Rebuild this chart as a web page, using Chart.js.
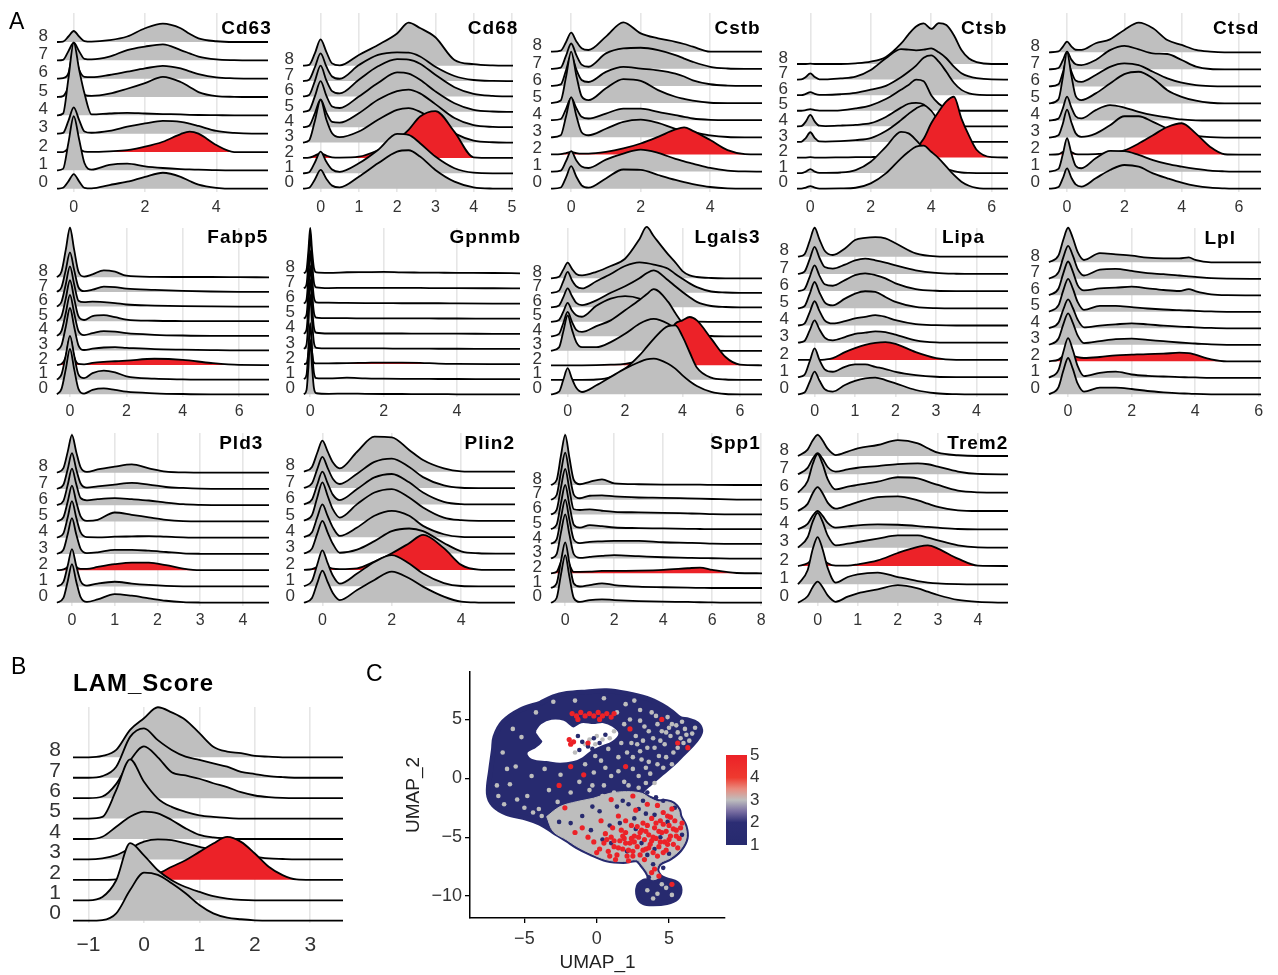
<!DOCTYPE html>
<html>
<head>
<meta charset="utf-8">
<title>LAM marker ridgelines and UMAP</title>
<script src="https://cdn.jsdelivr.net/npm/chart.js@4.4.1/dist/chart.umd.min.js"></script>
<style>
  body { margin: 0; background: #fff; }
  #fig { position: relative; width: 1278px; height: 975px; overflow: hidden;
         font-family: "Liberation Sans", Arial, sans-serif; color: #000; }
  #fig canvas { position: absolute; }
  .gene { position: absolute; font-weight: bold; font-size: 19px; letter-spacing: 1px; line-height: 1; white-space: nowrap; }
  .lam { position: absolute; font-weight: bold; font-size: 24px; letter-spacing: 1px; line-height: 1; white-space: nowrap; }
  .tag { position: absolute; font-size: 23px; line-height: 1; }
</style>
</head>
<body>
<div id="fig"></div>
<script>
Chart.defaults.font.family = '"Liberation Sans", Arial, sans-serif';
Chart.defaults.color = "#333";

const clusters = ["0", "1", "2", "3", "4", "5", "6", "7", "8"];

// ridge heights are in "row" units above each cluster baseline
const cd63X = [-0.47,-0.3,-0.15,0,0.15,0.3,0.5,1,1.5,2,2.5,3,3.25,3.5,4,4.5,5,5.45];
const cd63 = [
  [0,0.05,0.4,0.8,0.4,0.05,0.02,0.2,0.38,0.65,0.87,0.65,0.42,0.22,0.05,0,0,0],
  [0,0.08,1.5,2.95,1.7,0.4,0.04,0.3,0.37,0.22,0.13,0.07,0.05,0.04,0.01,0,0,0],
  [0,0,0.2,0.5,0.2,0.02,0.01,0.04,0.1,0.29,0.56,0.98,1.11,1.0,0.38,0,0,0],
  [0,0.04,0.7,1.44,0.75,0.12,0.05,0.15,0.38,0.56,0.7,0.65,0.55,0.42,0.15,0.04,0,0],
  [0,0.1,2.0,3.96,2.5,1.2,0.05,0.1,0.14,0.1,0.07,0.05,0.03,0.02,0.01,0,0,0],
  [0,0.05,0.6,1.8,0.9,0.12,0.06,0.18,0.45,0.76,1.1,0.82,0.55,0.27,0.05,0.01,0,0],
  [0,0.03,0.3,1.6,0.5,0.1,0.08,0.2,0.38,0.56,0.7,0.56,0.4,0.25,0.07,0.02,0,0],
  [0,0.03,0.5,0.96,0.5,0.08,0.05,0.2,0.56,0.75,0.87,0.56,0.38,0.2,0.05,0.01,0,0],
  [0,0.02,0.3,0.6,0.3,0.05,0.02,0.1,0.3,0.75,1.0,0.75,0.45,0.2,0.04,0,0,0]
];

const cd68X = [-0.46,-0.3,-0.15,0,0.15,0.3,0.5,1,1.5,2,2.3,2.6,3,3.5,4,4.5,5.03];
const cd68 = [
  [0,0.06,0.6,1.22,0.65,0.2,0.09,0.78,1.65,2.41,2.5,2.09,1.22,0.46,0.09,0.01,0],
  [0,0.07,0.7,1.41,0.75,0.25,0.1,0.65,1.52,2.56,2.5,1.96,1.09,0.33,0.04,0,0],
  [0,0.02,0.15,0.3,0.15,0.04,0.02,0.08,0.5,1.17,1.83,2.7,3.05,1.7,0.04,0,0],
  [0,0.14,1.4,2.78,1.5,0.6,0.35,0.72,1.48,2.13,2.24,2.0,1.4,0.6,0.13,0.02,0],
  [0,0.09,0.9,1.8,0.95,0.35,0.3,0.91,1.78,2.35,2.45,2.2,1.5,0.6,0.13,0.02,0],
  [0,0.1,1.0,2.0,1.05,0.35,0.25,1.0,1.87,2.56,2.48,2.08,1.33,0.56,0.13,0.02,0],
  [0,0.1,1.0,2.0,1.05,0.35,0.2,1.09,1.96,2.43,2.4,2.13,1.41,0.6,0.17,0.04,0],
  [0,0.09,0.9,1.8,0.95,0.3,0.15,1.04,1.7,1.87,1.85,1.6,0.93,0.33,0.07,0.01,0],
  [0,0.05,0.8,1.71,0.9,0.15,0.02,0.7,1.35,2.1,2.8,2.45,1.85,0.37,0.1,0.02,0]
];

const cstbX = [-0.58,-0.3,-0.15,0,0.15,0.3,0.5,1,1.5,2,2.5,3,3.25,3.5,4,4.5,5,5.49];
const cstb = [
  [0,0.07,0.65,1.32,0.7,0.2,0.06,0.6,1.12,1.1,0.8,0.51,0.38,0.27,0.1,0.02,0,0],
  [0,0.06,0.6,1.19,0.65,0.3,0.21,0.7,1.05,1.28,1.09,0.74,0.6,0.47,0.21,0.06,0.01,0],
  [0,0.02,0.08,0.15,0.08,0.05,0.05,0.15,0.35,0.64,1.03,1.46,1.58,1.38,0.84,0.25,0.02,0],
  [0,0.12,1.2,2.35,1.25,0.3,0.12,0.5,0.9,1.03,0.84,0.5,0.4,0.31,0.12,0.02,0,0],
  [0,0.07,0.65,1.3,0.7,0.2,0.1,0.39,0.68,0.68,0.49,0.29,0.2,0.1,0.02,0,0,0],
  [0,0.15,1.5,3.0,1.6,0.4,0.17,0.86,1.4,1.3,0.76,0.37,0.25,0.14,0.02,0,0,0],
  [0,0.09,0.9,1.8,0.95,0.35,0.23,0.82,1.11,1.01,0.91,0.72,0.55,0.33,0.1,0.02,0,0],
  [0,0.07,0.75,1.48,0.8,0.25,0.12,0.9,1.19,1.23,1.09,0.8,0.6,0.41,0.12,0.02,0,0],
  [0,0.06,0.55,1.11,0.6,0.2,0.1,0.88,1.71,1.07,0.78,0.58,0.45,0.29,0,0,0,0]
];

const ctsbX = [-0.44,-0.3,-0.15,0,0.15,0.3,0.5,1,1.5,2,2.5,3,3.25,3.5,3.75,4,4.25,4.5,4.75,5,5.25,5.5,6,6.54];
const ctsb = [
  [0,0,0.07,0.17,0.07,0.01,0.01,0.02,0.06,0.34,0.98,1.95,2.37,2.7,2.76,2.37,1.95,1.41,0.88,0.45,0.19,0.06,0,0],
  [0,0,0.1,0.26,0.1,0.02,0.02,0.04,0.19,0.73,1.69,2.65,2.55,2.12,1.58,1.05,0.62,0.3,0.13,0.04,0.01,0,0,0],
  [0,0,0,0.02,0,0,0,0.01,0.02,0.03,0.06,0.15,0.3,0.6,1.2,2.2,2.95,3.6,3.9,2.5,1.4,0.5,0.02,0],
  [0,0.01,0.25,0.62,0.25,0.03,0.02,0.05,0.12,0.25,0.7,1.4,1.8,2.15,2.35,2.0,1.3,0.6,0.2,0.05,0.01,0,0,0],
  [0,0.01,0.3,0.73,0.3,0.04,0.02,0.05,0.1,0.2,0.6,1.2,1.45,1.5,1.4,0.9,0.5,0.2,0.06,0.02,0,0,0,0],
  [0,0,0.04,0.1,0.04,0.01,0.01,0.03,0.15,0.35,0.75,1.35,1.65,2.0,1.9,1.0,0.45,0.15,0.03,0,0,0,0,0],
  [0,0,0.08,0.2,0.08,0.02,0.02,0.06,0.15,0.35,0.6,1.15,1.5,1.9,2.4,2.55,2.15,1.5,0.8,0.34,0.12,0.03,0,0],
  [0,0.01,0.16,0.4,0.16,0.02,0.01,0.08,0.19,0.62,1.37,1.95,1.92,1.88,1.92,2.0,1.75,1.37,0.83,0.41,0.2,0.09,0.01,0],
  [0,0,0,0.02,0,0,0,0,0.04,0.15,0.45,1.3,1.9,2.4,2.6,2.25,2.62,2.5,1.85,0.9,0.35,0.12,0,0]
];

const ctsdX = [-0.63,-0.3,-0.15,0,0.15,0.3,0.5,1,1.5,2,2.5,3,3.5,4,4.5,5,5.5,6,6.77];
const ctsd = [
  [0,0.1,0.6,1.19,0.65,0.25,0.12,0.61,1.1,1.39,1.29,0.9,0.61,0.35,0.16,0.06,0.02,0,0],
  [0,0.16,1.0,1.96,1.08,0.35,0.2,0.78,1.22,1.2,0.98,0.68,0.45,0.29,0.16,0.06,0.02,0,0],
  [0,0.02,0.15,0.3,0.15,0.03,0.01,0.03,0.08,0.25,0.65,1.14,1.62,1.84,1.23,0.45,0.02,0,0],
  [0,0.13,0.8,1.64,0.9,0.25,0.04,0.23,0.72,1.25,1.25,0.92,0.53,0.23,0.1,0.02,0,0,0],
  [0,0.11,0.7,1.4,0.77,0.25,0.12,0.61,0.9,0.76,0.51,0.31,0.18,0.06,0.01,0,0,0,0],
  [0,0.24,1.5,3.0,1.65,0.45,0.2,0.59,1.17,1.72,1.86,1.47,0.78,0.39,0.16,0.04,0,0,0],
  [0,0.13,0.8,1.6,0.88,0.35,0.27,0.67,1.15,1.35,1.25,0.86,0.47,0.22,0.08,0.02,0,0,0],
  [0,0.08,0.52,1.04,0.57,0.3,0.25,0.55,1.13,1.38,1.17,0.94,0.9,0.55,0.16,0.02,0,0,0],
  [0,0.05,0.32,0.63,0.35,0.15,0.14,0.53,0.76,1.31,1.74,1.41,0.72,0.43,0.14,0.04,0,0,0]
];

const fabp5X = [-0.46,-0.3,-0.15,0,0.15,0.3,0.5,0.8,1.2,1.6,2,3,4,5,6,7.06];
const fabp5 = [
  [0,0.37,1.7,3.1,1.7,0.37,0.05,0.3,0.4,0.3,0.18,0.07,0.02,0,0,0],
  [0,0.36,1.65,3.0,1.65,0.36,0.1,0.45,0.62,0.5,0.23,0.07,0.02,0,0,0],
  [0,0.08,0.55,1.9,0.55,0.08,0.05,0.15,0.22,0.26,0.3,0.43,0.36,0.14,0.01,0],
  [0,0.35,1.6,2.9,1.6,0.35,0.03,0.12,0.2,0.22,0.18,0.09,0.05,0.02,0,0],
  [0,0.34,1.54,2.8,1.54,0.34,0.05,0.18,0.32,0.29,0.18,0.07,0.02,0,0,0],
  [0,0.34,1.54,2.8,1.54,0.34,0.08,0.35,0.42,0.27,0.11,0.03,0.01,0,0,0],
  [0,0.33,1.51,2.75,1.51,0.4,0.3,0.33,0.3,0.24,0.14,0.07,0.03,0.01,0,0],
  [0,0.32,1.49,2.7,1.49,0.32,0.05,0.15,0.36,0.33,0.23,0.14,0.07,0.03,0.01,0],
  [0,0.4,1.87,3.4,1.87,0.4,0.05,0.2,0.48,0.38,0.11,0.03,0.02,0.02,0.01,0]
];

const gpnmbX = [-0.17,-0.1,-0.05,0,0.05,0.1,0.17,0.5,1,1.5,2,2.5,3,3.5,4,5,5.72];
const gpnmb = [
  [0,0.29,1.8,3.6,1.8,0.43,0.07,0.03,0.05,0.03,0.02,0.02,0.01,0.01,0,0,0],
  [0,0.3,1.85,3.7,1.85,0.44,0.07,0.05,0.1,0.05,0.03,0.02,0.02,0.01,0.01,0,0],
  [0,0.05,0.8,2.6,0.8,0.1,0.04,0.05,0.06,0.08,0.1,0.1,0.08,0.03,0.01,0,0],
  [0,0.29,1.8,3.6,1.8,0.43,0.07,0.03,0.03,0.03,0.03,0.02,0.02,0.01,0.01,0,0],
  [0,0.29,1.8,3.6,1.8,0.43,0.07,0.02,0.02,0.02,0.02,0.02,0.01,0.01,0.01,0,0],
  [0,0.28,1.75,3.5,1.75,0.42,0.07,0.03,0.03,0.02,0.02,0.02,0.02,0.01,0.01,0,0],
  [0,0.28,1.75,3.5,1.75,0.42,0.08,0.06,0.04,0.03,0.03,0.02,0.02,0.02,0.01,0,0],
  [0,0.28,1.75,3.5,1.75,0.42,0.07,0.02,0.04,0.04,0.04,0.03,0.03,0.02,0.02,0.01,0],
  [0,0.24,1.5,3.0,1.5,0.36,0.06,0.03,0.07,0.08,0.09,0.06,0.05,0.04,0.03,0.02,0]
];

const lgals3X = [-0.58,-0.3,-0.15,0,0.15,0.3,0.5,1,1.5,2,2.5,2.75,3,3.5,3.75,4,4.25,4.5,5,5.5,6,6.77];
const lgals3 = [
  [0,0.18,1.0,1.8,1.08,0.45,0.16,0.62,1.2,1.77,2.23,2.41,2.46,2.11,1.77,1.31,0.9,0.57,0.16,0.02,0,0],
  [0,0,0,0.01,0,0,0,0.02,0.18,0.76,1.68,2.25,2.83,3.7,3.75,3.0,1.9,0.85,0.15,0.02,0,0],
  [0,0,0,0,0,0,0,0.01,0.04,0.1,0.3,0.5,0.8,1.9,2.87,3.1,3.33,3.1,1.84,0.57,0.05,0],
  [0,0.24,1.34,2.44,1.46,0.6,0.25,0.25,0.6,1.17,1.86,2.1,2.2,1.86,1.5,1.06,0.6,0.25,0.02,0,0,0],
  [0,0.17,0.92,1.68,1.0,0.45,0.3,0.7,1.1,1.8,2.5,2.9,3.25,2.37,1.6,0.9,0.4,0.12,0.02,0,0,0],
  [0,0.13,0.7,1.3,0.78,0.45,0.35,1.1,1.6,1.77,1.6,1.3,0.9,0.3,0.12,0.05,0.02,0.01,0,0,0,0],
  [0,0.13,0.7,1.3,0.78,0.3,0.15,0.48,1.0,1.45,2.0,2.35,2.55,1.86,1.45,1.06,0.7,0.37,0.09,0.02,0,0],
  [0,0.15,0.8,1.45,0.87,0.45,0.3,0.8,1.3,1.85,2.1,2.05,1.95,1.66,1.3,0.97,0.65,0.39,0.09,0.02,0,0],
  [0,0.11,0.6,1.08,0.65,0.3,0.2,0.45,0.85,1.35,2.7,3.54,2.9,1.65,1.1,0.5,0.2,0.09,0.02,0,0,0]
];

const lipaX = [-0.41,-0.25,-0.12,0,0.12,0.25,0.45,0.75,1,1.25,1.5,1.75,2,2.5,3,3.5,4,4.78];
const lipa = [
  [0,0.1,0.73,1.32,0.8,0.3,0.16,0.54,0.78,0.93,0.97,0.83,0.64,0.25,0.06,0.01,0,0],
  [0,0.13,0.92,1.67,1.0,0.45,0.31,0.6,0.74,0.74,0.6,0.47,0.31,0.12,0.02,0,0,0],
  [0,0,0,0,0,0.02,0.1,0.45,0.68,0.87,0.99,1.03,0.93,0.45,0.1,0,0,0],
  [0,0.1,0.72,1.3,0.78,0.3,0.14,0.33,0.52,0.58,0.66,0.62,0.47,0.14,0.02,0,0,0],
  [0,0.11,0.78,1.41,0.85,0.3,0.12,0.25,0.41,0.5,0.6,0.5,0.31,0.08,0.02,0,0,0],
  [0,0.12,0.84,1.53,0.92,0.35,0.17,0.56,0.85,0.99,0.95,0.66,0.37,0.08,0.01,0,0,0],
  [0,0.12,0.83,1.5,0.9,0.4,0.31,0.64,0.93,1.03,0.93,0.74,0.45,0.12,0.02,0,0,0],
  [0,0.13,0.86,1.57,0.94,0.4,0.31,0.54,0.79,0.89,0.79,0.66,0.5,0.21,0.06,0.01,0,0],
  [0,0.14,0.93,1.69,1.01,0.35,0.1,0.48,0.97,1.1,1.14,1.07,0.78,0.19,0.02,0,0,0]
];

const lplX = [-0.6,-0.3,-0.15,0,0.15,0.3,0.5,1,1.5,2,2.5,3,3.5,3.8,4,4.5,5,6.07];
const lpl = [
  [0,0.44,1.43,2.2,1.54,0.66,0.16,0.4,0.4,0.32,0.2,0.12,0.06,0.04,0.02,0,0,0],
  [0,0.48,1.56,2.4,1.68,0.72,0.1,0.3,0.37,0.2,0.12,0.08,0.04,0.03,0.02,0,0,0],
  [0,0.1,0.33,0.5,0.35,0.25,0.2,0.26,0.36,0.4,0.44,0.46,0.52,0.5,0.4,0.12,0,0],
  [0,0.38,1.24,1.9,1.33,0.57,0.1,0.22,0.34,0.38,0.3,0.22,0.14,0.1,0.08,0.02,0,0],
  [0,0.35,1.14,1.75,1.23,0.53,0.06,0.16,0.24,0.3,0.24,0.16,0.1,0.08,0.06,0.02,0,0],
  [0,0.4,1.3,2.0,1.4,0.6,0.12,0.36,0.36,0.28,0.2,0.14,0.1,0.08,0.06,0.02,0,0],
  [0,0.41,1.33,2.05,1.44,0.62,0.3,0.42,0.46,0.52,0.42,0.32,0.26,0.38,0.26,0.06,0.01,0],
  [0,0.4,1.3,2.0,1.4,0.6,0.2,0.55,0.6,0.48,0.34,0.28,0.2,0.15,0.12,0.04,0.01,0],
  [0,0.42,1.37,2.1,1.47,0.63,0.14,0.55,0.48,0.4,0.28,0.24,0.24,0.3,0.14,0,0,0]
];

const pld3X = [-0.35,-0.2,-0.1,0,0.1,0.2,0.35,0.6,1,1.4,1.8,2.2,2.6,3,3.5,4,4.61];
const pld3 = [
  [0,0.29,1.31,2.38,1.31,0.36,0.05,0.2,0.53,0.43,0.27,0.12,0.04,0.01,0,0,0],
  [0,0.28,1.27,2.3,1.27,0.35,0.05,0.18,0.29,0.18,0.1,0.04,0.01,0,0,0,0],
  [0,0.05,0.2,0.6,0.2,0.08,0.08,0.2,0.37,0.47,0.47,0.31,0.1,0,0,0,0],
  [0,0.26,1.21,2.2,1.21,0.33,0.05,0.1,0.25,0.25,0.2,0.12,0.04,0.01,0,0,0],
  [0,0.27,1.24,2.25,1.24,0.34,0.03,0.02,0.06,0.08,0.1,0.06,0.02,0,0,0,0],
  [0,0.26,1.21,2.2,1.21,0.33,0.04,0.1,0.55,0.41,0.25,0.1,0.02,0,0,0,0],
  [0,0.27,1.24,2.25,1.3,0.45,0.3,0.37,0.43,0.37,0.29,0.16,0.06,0.02,0,0,0],
  [0,0.26,1.21,2.2,1.21,0.35,0.08,0.16,0.27,0.37,0.27,0.12,0.06,0.02,0,0,0],
  [0,0.28,1.28,2.32,1.28,0.35,0.05,0.2,0.37,0.51,0.27,0.06,0.02,0,0,0,0]
];

const plin2X = [-0.53,-0.3,-0.15,0,0.15,0.3,0.5,1,1.5,2,2.5,2.9,3.5,4,4.5,5,5.55];
const plin2 = [
  [0,0.29,1.18,1.96,1.27,0.59,0.16,0.78,1.39,1.9,1.49,0.98,0.37,0.06,0.01,0,0],
  [0,0.33,1.32,2.2,1.43,0.66,0.16,0.78,1.49,1.9,1.39,0.78,0.2,0.02,0,0,0],
  [0,0.05,0.18,0.3,0.2,0.08,0.05,0.1,0.51,1.02,1.63,2.14,1.33,0.31,0.02,0,0],
  [0,0.3,1.2,2.0,1.3,0.6,0.05,0.24,0.76,1.37,1.53,1.37,0.65,0.14,0.02,0,0],
  [0,0.3,1.2,2.0,1.3,0.6,0.08,0.59,1.31,1.61,1.31,0.69,0.18,0.02,0,0,0],
  [0,0.35,1.41,2.35,1.53,0.71,0.2,1.02,1.73,1.94,1.43,0.82,0.2,0.04,0,0,0],
  [0,0.3,1.2,2.0,1.3,0.6,0.27,0.94,1.65,1.86,1.35,0.73,0.16,0.02,0,0,0],
  [0,0.29,1.14,1.9,1.24,0.57,0.25,0.88,1.6,1.8,1.29,0.67,0.16,0.02,0,0,0],
  [0,0.29,1.14,1.9,1.24,0.57,0.2,1.22,2.14,2.1,1.33,0.71,0.2,0.02,0,0,0]
];

const spp1X = [-0.58,-0.35,-0.17,0,0.17,0.35,0.6,1,1.5,2,3,4,5,5.5,6,7,8.03];
const spp1 = [
  [0,0.32,1.94,3.24,1.78,0.32,0.05,0.18,0.23,0.18,0.11,0.07,0.05,0.03,0.02,0,0],
  [0,0.31,1.86,3.1,1.7,0.31,0.1,0.2,0.32,0.2,0.09,0.05,0.02,0.01,0,0,0],
  [0,0.1,0.8,1.4,0.6,0.1,0.1,0.11,0.16,0.16,0.18,0.23,0.34,0.39,0.23,0.02,0],
  [0,0.3,1.8,3.0,1.65,0.3,0.05,0.11,0.18,0.23,0.16,0.09,0.05,0.03,0.02,0,0],
  [0,0.3,1.8,3.0,1.65,0.3,0.05,0.14,0.17,0.2,0.2,0.11,0.07,0.05,0.02,0,0],
  [0,0.3,1.8,3.0,1.65,0.3,0.1,0.27,0.2,0.11,0.07,0.05,0.02,0.01,0,0,0],
  [0,0.31,1.86,3.1,1.7,0.35,0.3,0.34,0.25,0.18,0.14,0.11,0.07,0.05,0.02,0,0],
  [0,0.32,1.92,3.2,1.76,0.35,0.1,0.27,0.3,0.22,0.15,0.13,0.09,0.07,0.05,0.01,0],
  [0,0.34,2.04,3.4,1.87,0.34,0.05,0.22,0.38,0.11,0.05,0.03,0.02,0.02,0.01,0,0]
];

const trem2X = [-0.49,-0.25,-0.12,0,0.12,0.25,0.45,0.75,1,1.5,2,2.5,2.75,3,3.5,4,4.75];
const trem2 = [
  [0,0.35,0.86,1.15,0.86,0.4,0.05,0.33,0.51,0.73,0.96,0.78,0.6,0.42,0.15,0.04,0],
  [0,0.77,1.94,2.58,1.94,0.9,0.09,0.4,0.55,0.64,0.4,0.18,0.1,0.05,0.01,0,0],
  [0,0.15,0.4,0.5,0.4,0.15,0.02,0.02,0.09,0.31,0.71,1.04,1.13,0.95,0.4,0.02,0],
  [0,0.57,1.43,1.9,1.43,0.67,0.13,0.22,0.31,0.49,0.67,0.67,0.55,0.4,0.13,0.02,0],
  [0,0.3,0.75,1.0,0.75,0.35,0.09,0.16,0.22,0.27,0.25,0.18,0.13,0.09,0.02,0,0],
  [0,0.39,0.98,1.3,0.98,0.46,0.13,0.31,0.49,0.76,0.8,0.58,0.4,0.22,0.04,0,0],
  [0,0.63,1.58,2.1,1.58,0.74,0.18,0.33,0.42,0.6,0.84,0.78,0.6,0.42,0.11,0.02,0],
  [0,0.35,0.86,1.15,0.86,0.4,0.15,0.27,0.36,0.45,0.56,0.6,0.55,0.42,0.15,0.02,0],
  [0,0.35,0.86,1.15,0.86,0.4,0.05,0.24,0.42,0.6,0.87,0.69,0.42,0.18,0.04,0,0]
];

const lamX = [-1.28,-1,-0.75,-0.5,-0.25,0,0.25,0.5,0.75,1,1.25,1.5,1.75,2,2.25,2.5,2.75,3,3.59];
const lam = [
  [0,0,0.03,0.36,1.5,2.35,2.24,1.83,1.34,0.77,0.36,0.15,0.07,0.02,0,0,0,0,0],
  [0,0,0.16,0.98,2.8,2.2,1.47,0.98,0.65,0.41,0.2,0.08,0.02,0,0,0,0,0,0],
  [0,0,0,0.02,0.05,0.1,0.3,0.64,0.96,1.37,1.78,2.1,1.86,1.29,0.64,0.23,0.02,0,0],
  [0,0,0.05,0.21,0.54,0.87,0.98,0.95,0.78,0.62,0.46,0.33,0.21,0.13,0.05,0.02,0,0,0],
  [0,0,0.11,0.6,1.09,1.34,1.26,0.93,0.52,0.2,0.08,0.03,0,0,0,0,0,0,0],
  [0,0,0.08,1.39,2.9,1.8,0.98,0.57,0.33,0.16,0.08,0.03,0,0,0,0,0,0,0],
  [0,0,0.08,0.7,1.84,2.53,2.0,1.27,1.11,0.95,0.73,0.54,0.29,0.13,0.05,0.01,0,0,0],
  [0,0,0.08,0.54,2.0,2.42,1.84,1.36,1.03,0.87,0.7,0.54,0.29,0.18,0.08,0.03,0,0,0],
  [0,0,0.07,0.36,1.34,1.91,2.45,2.2,1.83,1.18,0.52,0.28,0.2,0.07,0.03,0,0,0,0]
];

// UMAP: outline of the cell cloud, the empty hole, the grey-score zone, and single cells
const umapXRange = [-8.76, 8.87];
const umapYRange = [-11.86, 9.03];
const umapXTicks = [-5, 0, 5];
const umapYTicks = [-10, -5, 0, 5];
const bodyOutline = [
  [-3.92,6.36],[-5.3,5.79],[-6.45,4.8],[-7.03,3.53],[-7.14,2.4],[-7.33,0.71],[-7.49,-1.27],[-7.14,-2.26],
  [-6.22,-2.97],[-4.84,-3.39],[-3.92,-3.81],[-3.0,-4.52],[-2.07,-5.23],[-1.38,-5.79],[-0.46,-6.36],[0.69,-6.92],
  [1.84,-7.06],[2.76,-6.92],[3.11,-7.34],[3.46,-7.91],[3.69,-8.62],[3.23,-8.76],[2.88,-9.18],[2.88,-10.03],
  [3.23,-10.54],[3.92,-10.65],[4.84,-10.54],[5.53,-10.17],[5.76,-9.46],[5.53,-8.9],[4.84,-8.62],[4.38,-8.33],
  [4.15,-7.77],[4.38,-7.2],[5.07,-6.78],[5.76,-6.07],[6.18,-5.08],[6.11,-4.1],[5.76,-3.25],[5.65,-2.68],
  [5.3,-2.18],[4.84,-1.98],[4.26,-1.98],[3.69,-1.69],[3.23,-1.41],[3.11,-1.13],[3.69,-0.42],[4.49,0.42],
  [5.3,1.27],[5.99,2.12],[6.57,2.82],[7.03,3.53],[7.19,4.1],[6.91,4.66],[6.34,4.94],[5.76,5.08],
  [5.18,5.65],[4.49,6.21],[3.46,6.78],[2.07,7.2],[0.69,7.43],[-0.69,7.34],[-2.07,7.2],[-3.0,6.92]
];
const holeOutline = [
  [-4.15,3.95],[-3.8,4.52],[-3.11,4.89],[-2.3,4.8],[-1.61,4.24],[-1.04,4.6],[-0.23,4.52],[0.46,4.6],
  [1.04,4.32],[1.43,3.81],[1.04,3.25],[0.23,2.82],[-0.46,2.4],[-1.04,1.84],[-1.61,1.55],[-2.53,1.41],
  [-3.46,1.55],[-4.38,1.69],[-4.72,2.12],[-4.15,2.54],[-3.69,3.11],[-3.92,3.53]
];
const greyZone = [
  [-3.46,-3.25],[-2.53,-2.4],[-1.38,-1.98],[-0.23,-1.69],[0.92,-1.27],[2.07,-1.13],[3.11,-1.27],[3.69,-1.69],
  [4.26,-1.98],[4.84,-1.98],[5.3,-2.18],[5.65,-2.68],[5.76,-3.25],[6.11,-4.1],[6.18,-5.08],[5.76,-6.07],
  [5.07,-6.78],[4.38,-7.2],[4.15,-7.77],[4.38,-8.33],[3.8,-8.6],[3.46,-7.91],[3.11,-7.34],[2.76,-6.92],
  [1.84,-7.06],[0.69,-6.92],[-0.46,-6.36],[-1.38,-5.79],[-2.07,-5.23],[-3.0,-4.52]
];
const redCells = [
  [0.2,-6.0],[0.5,-5.5],[0.8,-6.2],[1.0,-5.0],[1.2,-5.8],[1.4,-6.5],[1.6,-5.3],[1.8,-6.0],[2.0,-4.6],[2.1,-6.6],
  [2.3,-5.5],[2.5,-6.2],[2.6,-4.9],[2.8,-5.8],[3.0,-6.5],[3.1,-4.4],[3.3,-5.2],[3.4,-6.0],[3.6,-4.8],[3.7,-5.6],
  [3.9,-6.3],[4.0,-4.2],[4.1,-5.1],[4.3,-5.8],[4.4,-3.6],[4.5,-4.6],[4.7,-5.4],[4.8,-6.1],[4.9,-3.2],[5.0,-4.0],
  [5.1,-4.9],[5.3,-5.6],[5.4,-3.6],[5.5,-4.4],[5.7,-5.1],[5.8,-4.2],[5.2,-2.6],[4.6,-2.9],[3.8,-3.4],[3.2,-3.8],
  [2.4,-4.0],[1.7,-4.4],[1.1,-4.2],[0.6,-4.7],[-0.2,-5.4],[-0.6,-5.0],[-1.0,-4.2],[-1.5,-4.6],[0.3,-3.6],[1.5,-3.2],
  [2.7,-2.7],[3.5,-2.2],[1.9,-5.1],[2.9,-5.0],[3.9,-5.0],[4.2,-6.6],[3.3,-6.9],[2.2,-7.0],[4.2,-2.3],[5.6,-5.9],
  [4.6,-3.9],[3.0,-4.6],[2.0,-3.6],[1.3,-6.9],[0.9,-6.6],[0.0,-6.3],[1.2,-5.3],[2.4,-5.1],[3.6,-5.9],[4.9,-5.6],
  [5.3,-4.3],[4.3,-4.5],[2.2,-6.1],[3.5,-4.0],
  [0.7,-5.2],[1.5,-5.9],[2.0,-5.5],[2.6,-5.4],[3.2,-6.1],[3.8,-5.3],[4.4,-5.4],[5.0,-5.2],[5.5,-4.9],[4.8,-4.5],
  [4.1,-3.8],[3.4,-4.5],[2.8,-4.1],[1.8,-4.9],[2.5,-6.6],[4.6,-6.3],[5.9,-3.8],[5.1,-3.3],
  [4.0,-7.7],[4.3,-8.3],[3.8,-8.0],[5.2,-9.0],
  [-1.7,5.5],[-1.4,5.3],[-1.1,5.6],[-0.8,5.3],[-0.5,5.5],[-0.2,5.3],[0.1,5.6],[0.4,5.3],[0.7,5.5],[1.0,5.2],
  [1.2,5.5],[-1.3,5.0],[0.2,5.0],[-1.9,3.3],[-1.6,3.1],[-1.8,2.9],
  [-0.6,3.0],[-1.8,1.0],[-0.9,0.3],[2.5,-1.5],[2.3,4.2],[5.6,3.0],[4.5,5.0],[2.0,1.0],[1.0,-1.8],[-2.2,-2.5],
  [6.3,2.6],[-2.6,-0.6]
];
const greyCells = [
  [-6.5,2.2],[-6.0,-0.5],[-5.6,1.0],[-5.2,3.5],[-4.8,-1.5],[-4.5,0.2],[-4.0,-2.6],[-3.6,0.8],[-3.3,-1.0],[-2.7,-2.0],
  [-2.5,0.3],[-2.2,-3.0],[-1.8,-1.2],[-1.5,2.2],[-1.2,-0.3],[-1.0,-2.6],[-0.8,1.2],[-0.5,-1.0],[-0.2,0.5],[0.0,-2.2],
  [0.3,1.5],[0.5,-0.6],[0.8,2.5],[1.0,0.2],[1.2,-1.2],[1.5,1.8],[1.7,3.0],[1.9,-0.3],[2.1,2.2],[2.3,5.0],
  [2.5,0.8],[2.7,3.6],[2.9,-0.8],[3.1,1.6],[3.3,4.4],[3.5,2.6],[3.7,0.4],[3.9,3.4],[4.1,5.3],[4.3,1.9],
  [4.5,4.0],[4.7,2.9],[4.9,5.2],[5.1,3.6],[5.3,2.2],[5.5,4.5],[5.8,3.4],[6.1,4.2],[6.4,3.2],[-6.8,-1.5],
  [-5.8,4.2],[-4.2,5.6],[-3.0,6.5],[-1.5,6.6],[0.5,6.8],[2.0,6.3],[3.0,5.8],[-6.2,0.8],[-5.0,-2.5],[-3.8,-3.2],
  [1.2,4.0],[3.4,0.9],[4.0,-0.4],[2.6,-1.6],[0.8,-2.8],[-0.6,-3.2],
  [2.8,2.9],[3.2,3.2],[3.6,4.0],[4.0,2.6],[4.4,3.2],[4.8,3.9],[5.2,4.6],[5.6,3.9],[6.0,3.0],[6.6,3.8],
  [3.0,4.9],[3.8,5.6],[2.4,3.0],[1.9,4.6],[4.2,1.2],[4.8,1.8],[5.2,1.2],[2.9,0.2],[3.4,-0.4],[2.2,-0.6],
  [1.5,0.6],[0.6,0.9],[-0.3,-0.6],[0.4,-1.5],[1.6,-2.2],[-0.1,1.9],[0.9,3.4],
  [3.6,1.4],[4.6,0.9],[5.6,2.6],[6.2,3.7],[6.8,4.3],[5.0,4.3],[4.2,4.6],[2.5,1.8],[3.0,2.3],[1.4,5.6],
  [2.6,6.6],[5.9,4.8],
  [-6.9,-0.6],[-6.4,-2.2],[-5.5,-1.8],[-4.4,-2.9],[-3.0,-3.6],[-2.4,-4.1],[-1.7,-4.8],[-0.9,-5.6],
  [-0.5,3.3],[-0.1,2.9],[0.4,3.3],[-0.8,2.9],[0.0,3.6],
  [3.5,-9.5],[4.2,-9.8],[4.8,-9.3],[3.9,-10.2],[5.2,-9.9],[4.5,-9.0]
];
const navyCells = [
  [-1.0,-3.2],[-0.4,-4.4],[0.2,-2.8],[0.9,-4.0],[1.4,-2.4],[2.2,-2.2],[2.6,-3.4],[3.4,-3.0],[4.0,-3.1],[4.6,-1.9],
  [5.4,-2.5],[2.1,-6.2],[3.5,-6.5],[1.0,-5.5],[2.7,-4.3],[4.4,-5.0],[5.0,-6.4],[3.2,-1.9],[0.4,-5.2],[-1.8,-3.8],
  [-2.6,-3.7],[1.8,-1.9],[3.9,-7.3],[3.6,-8.4],[4.6,-7.6],[2.9,-2.6],[4.9,-3.7],[-0.3,-2.4],[1.6,-3.8],[3.1,-5.5],
  [5.9,-4.8],[4.0,-6.0],
  [-1.0,3.1],[-0.6,2.7],[-0.2,3.4],[0.2,3.0],[-1.3,3.6],[-0.3,2.5],[0.6,3.7],[-1.2,2.4],
  [3.5,-1.2],[4.1,-1.6]
];

// colour bar of the score
const scoreTicks = [1, 2, 3, 4, 5];
const scoreStops = [1, 2, 2.5, 3, 3.5, 4, 5];
const scoreColors = ["#262a6e", "#2c2d74", "#7a6fa2", "#bebebe", "#e98a7d", "#ee3a2f", "#ec2127"];

const RIDGE_GREY = "#bfbfbf";
const RIDGE_RED = "#ec2228";
const NAVY = "#272a6f";
const DOT_GREY = "#bdbdbd";
const DOT_RED = "#ec2228";

const fig = document.getElementById("fig");
const minus = (v) => String(v).replace("-", "\u2212");

function addCanvas(left, top, w, h) {
  const c = document.createElement("canvas");
  c.width = w;
  c.height = h;
  c.style.left = left + "px";
  c.style.top = top + "px";
  fig.appendChild(c);
  return c;
}

function addText(cls, text, css) {
  const d = document.createElement("div");
  d.className = cls;
  d.textContent = text;
  Object.assign(d.style, css);
  fig.appendChild(d);
}

function ridgePanel(p) {
  const L = Math.round(p.L), R = Math.round(p.R), T = Math.round(p.T), B = Math.round(p.B);
  const sp = (p.base0 - p.base8) / 8;
  const yMin = -(B - p.base0) / sp;
  const yMax = (p.base0 - T) / sp;
  const yw = 40, padTop = 28, padRight = 14, xh = p.xh || 34;
  const cv = addCanvas(L - yw, T - padTop, R - L + yw + padRight, B - T + padTop + xh);

  new Chart(cv, {
    type: "line",
    data: {
      datasets: p.ridges.map((h, k) => ({
        label: clusters[k],
        data: p.xs.map((x, i) => ({ x: x, y: k + h[i] })),
        borderColor: "#000",
        borderWidth: 1.8,
        backgroundColor: k === 2 ? RIDGE_RED : RIDGE_GREY,
        fill: { value: k },
        pointRadius: 0,
        cubicInterpolationMode: "monotone",
        clip: false,
      })),
    },
    options: {
      responsive: false,
      animation: false,
      events: [],
      layout: { padding: { top: padTop, right: padRight, left: 0, bottom: 0 } },
      plugins: { legend: { display: false }, tooltip: { enabled: false } },
      scales: {
        x: {
          type: "linear",
          min: p.xs[0],
          max: p.xs[p.xs.length - 1],
          afterBuildTicks: (s) => { s.ticks = p.ticks.map((v) => ({ value: v })); },
          afterFit: (s) => { s.height = xh; },
          grid: { color: "#e6e6e6", lineWidth: 1.6, drawTicks: false },
          border: { display: false },
          ticks: { color: "#333", font: { size: p.xf || 16 }, padding: p.xp, autoSkip: false, maxRotation: 0, callback: minus },
        },
        y: {
          type: "linear",
          min: yMin,
          max: yMax,
          afterBuildTicks: (s) => { s.ticks = clusters.map((c, i) => ({ value: i })); },
          afterFit: (s) => { s.width = yw; },
          grid: { display: false, drawTicks: false },
          border: { display: false },
          ticks: { color: "#333", font: { size: p.yf || 17 }, padding: p.yp || 9, autoSkip: false, labelOffset: p.lo || -6,
                   callback: (v) => clusters[v] },
        },
      },
    },
  });

  if (p.title) addText("gene", p.title, { right: (1278 - p.tr) + "px", top: (p.ty - 9.5) + "px" });
}

const panels = [
  { title: "Cd63", xs: cd63X, ridges: cd63, ticks: [0, 2, 4], L: 57, R: 268, T: 13, B: 192, base0: 188.7, base8: 42, tr: 271.7, ty: 27, xp: 6 },
  { title: "Cd68", xs: cd68X, ridges: cd68, ticks: [0, 1, 2, 3, 4, 5], L: 303, R: 513, T: 13, B: 192, base0: 188.7, base8: 65.7, tr: 518.3, ty: 27, xp: 6 },
  { title: "Cstb", xs: cstbX, ridges: cstb, ticks: [0, 2, 4], L: 551, R: 762, T: 13, B: 192, base0: 188.7, base8: 51.7, tr: 760.7, ty: 27, xp: 6 },
  { title: "Ctsb", xs: ctsbX, ridges: ctsb, ticks: [0, 2, 4, 6], L: 797, R: 1008, T: 13, B: 192, base0: 188.7, base8: 64, tr: 1007.3, ty: 27, xp: 6 },
  { title: "Ctsd", xs: ctsdX, ridges: ctsd, ticks: [0, 2, 4, 6], L: 1049, R: 1261, T: 13, B: 192, base0: 188.7, base8: 52.3, tr: 1259.3, ty: 27, xp: 6 },

  { title: "Fabp5", xs: fabp5X, ridges: fabp5, ticks: [0, 2, 4, 6], L: 57, R: 269, T: 228, B: 397, base0: 394.3, base8: 277.3, tr: 268.3, ty: 236, xp: 5 },
  { title: "Gpnmb", xs: gpnmbX, ridges: gpnmb, ticks: [0, 2, 4], L: 304, R: 520, T: 228, B: 397, base0: 394.3, base8: 273.3, tr: 521, ty: 236, xp: 5 },
  { title: "Lgals3", xs: lgals3X, ridges: lgals3, ticks: [0, 2, 4, 6], L: 551, R: 762, T: 228, B: 397, base0: 394.3, base8: 278.3, tr: 760.7, ty: 236, xp: 5 },
  { title: "Lipa", xs: lipaX, ridges: lipa, ticks: [0, 1, 2, 3, 4], L: 798, R: 1008, T: 228, B: 397, base0: 394.3, base8: 256.7, tr: 985, ty: 236, xp: 5 },
  { title: "Lpl", xs: lplX, ridges: lpl, ticks: [0, 2, 4, 6], L: 1049, R: 1261, T: 228, B: 397, base0: 394.3, base8: 262.3, tr: 1236, ty: 237, xp: 5 },

  { title: "Pld3", xs: pld3X, ridges: pld3, ticks: [0, 1, 2, 3, 4], L: 57, R: 269, T: 433, B: 606, base0: 602.7, base8: 472.7, tr: 263.3, ty: 442.5, xp: 5 },
  { title: "Plin2", xs: plin2X, ridges: plin2, ticks: [0, 2, 4], L: 304, R: 515, T: 433, B: 606, base0: 602.7, base8: 471.7, tr: 515, ty: 442.5, xp: 5 },
  { title: "Spp1", xs: spp1X, ridges: spp1, ticks: [0, 2, 4, 6, 8], L: 551, R: 762, T: 433, B: 606, base0: 602.7, base8: 485, tr: 760.7, ty: 442.5, xp: 5 },
  { title: "Trem2", xs: trem2X, ridges: trem2, ticks: [0, 1, 2, 3, 4], L: 798, R: 1008, T: 433, B: 606, base0: 602.7, base8: 456, tr: 1008.3, ty: 442.5, xp: 5 },

  { xs: lamX, ridges: lam, ticks: [-1, 0, 1, 2, 3], L: 73, R: 343, T: 707, B: 923, base0: 920.7, base8: 757.3, xf: 21, yf: 21, xp: 10, yp: 12, lo: -7, xh: 42 },
];

panels.forEach(ridgePanel);

// panel C: UMAP
const toXY = (pts) => pts.map(([x, y]) => ({ x: x, y: y }));
function shapeSet(pts, color, bw) {
  return { data: toXY(pts.concat([pts[0]])), showLine: true, fill: "shape", backgroundColor: color,
           borderColor: color, borderWidth: bw, pointRadius: 0, tension: 0.35 };
}
function dotSet(pts, color, r) {
  return { data: toXY(pts), showLine: false, fill: false, pointRadius: r, pointBackgroundColor: color,
           pointBorderWidth: 0, pointBorderColor: color };
}

const umapCanvas = addCanvas(400, 654, 340, 324);
new Chart(umapCanvas, {
  type: "line",
  data: {
    datasets: [
      dotSet(redCells, DOT_RED, 2.6),
      dotSet(navyCells, NAVY, 2.3),
      dotSet(greyCells, DOT_GREY, 2.3),
      shapeSet(holeOutline, "#ffffff", 2),
      shapeSet(greyZone, DOT_GREY, 1),
      shapeSet(bodyOutline, NAVY, 5),
    ],
  },
  options: {
    responsive: false,
    animation: false,
    events: [],
    layout: { padding: { top: 18, right: 15, left: 0, bottom: 0 } },
    plugins: { legend: { display: false }, tooltip: { enabled: false } },
    scales: {
      x: {
        type: "linear",
        min: umapXRange[0],
        max: umapXRange[1],
        afterBuildTicks: (s) => { s.ticks = umapXTicks.map((v) => ({ value: v })); },
        afterFit: (s) => { s.height = 60; },
        grid: { drawOnChartArea: false, tickLength: 5, color: "#000", lineWidth: 1.3 },
        border: { display: true, color: "#000", width: 1.5 },
        ticks: { color: "#333", font: { size: 18 }, padding: 5, autoSkip: false, maxRotation: 0, callback: minus },
        title: { display: true, text: "UMAP_1", color: "#222", font: { size: 19 }, padding: { top: 0, bottom: 4 } },
      },
      y: {
        type: "linear",
        min: umapYRange[0],
        max: umapYRange[1],
        afterBuildTicks: (s) => { s.ticks = umapYTicks.map((v) => ({ value: v })); },
        afterFit: (s) => { s.width = 70; },
        grid: { drawOnChartArea: false, tickLength: 5, color: "#000", lineWidth: 1.3 },
        border: { display: true, color: "#000", width: 1.5 },
        ticks: { color: "#333", font: { size: 18 }, padding: 3, autoSkip: false, callback: minus },
        title: { display: true, text: "UMAP_2", color: "#222", font: { size: 19 }, padding: { top: 2, bottom: 0 } },
      },
    },
  },
});

// colour bar
function scoreGradient(chart) {
  const a = chart.chartArea;
  if (!a) return NAVY;
  const g = chart.ctx.createLinearGradient(0, a.bottom, 0, a.top);
  const lo = scoreTicks[0], hi = scoreTicks[scoreTicks.length - 1];
  scoreStops.forEach((v, i) => g.addColorStop((v - lo) / (hi - lo), scoreColors[i]));
  return g;
}
const barCanvas = addCanvas(720, 739, 57, 122);
new Chart(barCanvas, {
  type: "bar",
  data: {
    labels: ["score"],
    datasets: [{
      data: [[scoreTicks[0], scoreTicks[scoreTicks.length - 1]]],
      backgroundColor: (ctx) => scoreGradient(ctx.chart),
      borderWidth: 0,
      barPercentage: 1,
      categoryPercentage: 1,
    }],
  },
  options: {
    responsive: false,
    animation: false,
    events: [],
    layout: { padding: { left: 6, top: 16, bottom: 16, right: 0 } },
    plugins: { legend: { display: false }, tooltip: { enabled: false } },
    scales: {
      x: { display: false },
      y: {
        position: "right",
        min: scoreTicks[0],
        max: scoreTicks[scoreTicks.length - 1],
        afterBuildTicks: (s) => { s.ticks = scoreTicks.map((v) => ({ value: v })); },
        afterFit: (s) => { s.width = 30; },
        grid: { display: false, drawTicks: false },
        border: { display: false },
        ticks: { color: "#333", font: { size: 17 }, padding: 3, autoSkip: false },
      },
    },
  },
});

// titles and panel letters
addText("lam", "LAM_Score", { left: "73px", top: "670.5px" });
addText("tag", "A", { left: "9px", top: "9.5px" });
addText("tag", "B", { left: "11px", top: "655px" });
addText("tag", "C", { left: "366px", top: "661.5px" });
</script>
</body>
</html>
